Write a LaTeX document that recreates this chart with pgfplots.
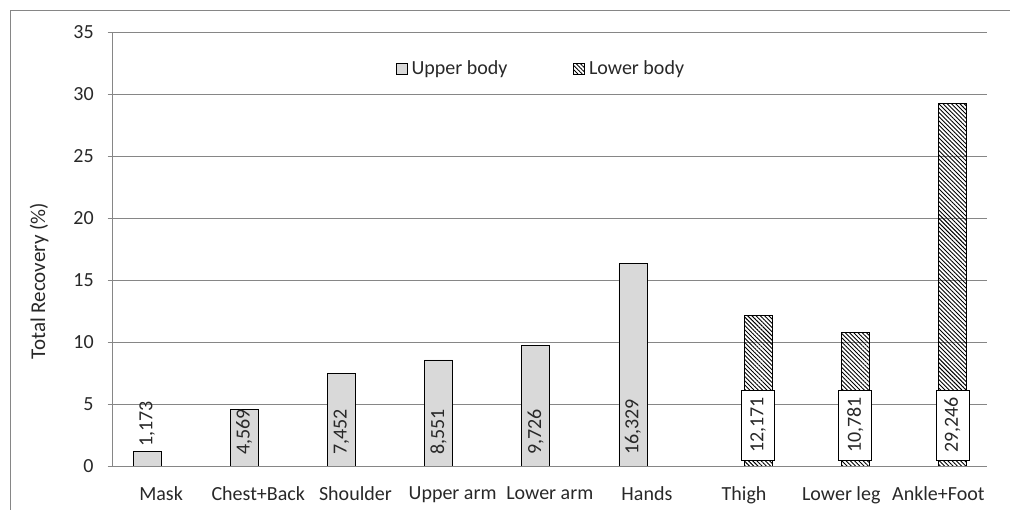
\documentclass[border=0pt]{standalone}
\usepackage{fontspec}
\setmainfont{Carlito}
\usepackage{pgfplots}
\pgfplotsset{compat=1.18}
\usetikzlibrary{patterns.meta}
\definecolor{gridgray}{RGB}{134,134,134}
\definecolor{barfill}{RGB}{217,217,217}
\definecolor{txt}{RGB}{40,40,40}
\pgfplotsset{sqlegend/.style={legend image code/.code={\draw[##1, line width=0.6pt] (0pt,-5.5pt) rectangle (11pt,5.5pt);}}}

\begin{document}
\fontsize{20}{24}\selectfont
\begin{tikzpicture}
\useasboundingbox (0pt,0pt) rectangle (1010pt,510pt);
\draw[gridgray, line width=0.8pt] (10pt,-2pt) -- (10pt,500pt) -- (1012pt,500pt);
\begin{axis}[
  at={(112.5pt,44pt)}, anchor=south west,
  scale only axis, width=874.5pt, height=434pt,
  xmin=-0.5, xmax=8.5, ymin=0, ymax=35,
  axis x line*=bottom, axis y line*=left,
  axis line style={gridgray, line width=0.8pt, -},
  ytick={0,5,...,35},
  ymajorgrids, grid style={gridgray, line width=0.8pt},
  xtick={0,...,8},
  xticklabels={Mask, Chest+Back, Shoulder, Upper arm, Lower arm, Hands, Thigh, Lower leg, Ankle+Foot},
  x tick style={draw=none},
  y tick style={gridgray, line width=0.8pt},
  tick align=outside, major tick length=5pt,
  /pgf/number format/assume math mode=true,
  tick label style={text=txt},
  xticklabel style={yshift=-9pt},
  yticklabel style={xshift=-7pt},
  ylabel={Total Recovery (\%)},
  ylabel style={at={(rel axis cs:-0.084,0.4263)}, anchor=center, text=txt, font=\fontsize{21}{25}\selectfont},
  legend style={at={(rel axis cs:0.49,0.915)}, anchor=center, draw=none, fill=none,
    legend columns=2,
    /tikz/every even column/.append style={column sep=64pt},
    /tikz/every odd column/.append style={column sep=2pt},
    text=txt, inner sep=0pt},
  legend cell align=left,
]
\addplot[ybar, bar width=28pt, bar shift=-14pt, draw=black, line width=0.8pt, fill=barfill,
  point meta=y,
  nodes near coords={\pgfmathprintnumber[fixed, fixed zerofill, precision=3, use comma]{\pgfplotspointmeta}},
  visualization depends on={y \as \rawy},
  every node near coord/.style={xshift=-14pt, shift={(axis direction cs:0,{ifthenelse(\rawy<2,0.2,0.7-\rawy)})},
    rotate=90, anchor=west, inner sep=2pt, text=txt},
  sqlegend]
coordinates {(0,1.173) (1,4.569) (2,7.452) (3,8.551) (4,9.726) (5,16.329)};
\addlegendentry{Upper body}
\addplot[ybar, bar width=28pt, bar shift=14pt, draw=black, line width=0.8pt,
  pattern={Lines[angle=-45,distance=3pt,line width=0.9pt]},
  point meta=y,
  nodes near coords={\pgfmathprintnumber[fixed, fixed zerofill, precision=3, use comma]{\pgfplotspointmeta}},
  visualization depends on={y \as \rawy},
  every node near coord/.style={xshift=14pt, shift={(axis direction cs:0,{3.31-\rawy})},
    rotate=90, anchor=center, fill=white, draw=black, line width=0.8pt,
    inner sep=0pt, minimum width=70pt, minimum height=33pt, text=txt},
  sqlegend]
coordinates {(6,12.171) (7,10.781) (8,29.246)};
\addlegendentry{Lower body}
\end{axis}
\end{tikzpicture}
\end{document}
